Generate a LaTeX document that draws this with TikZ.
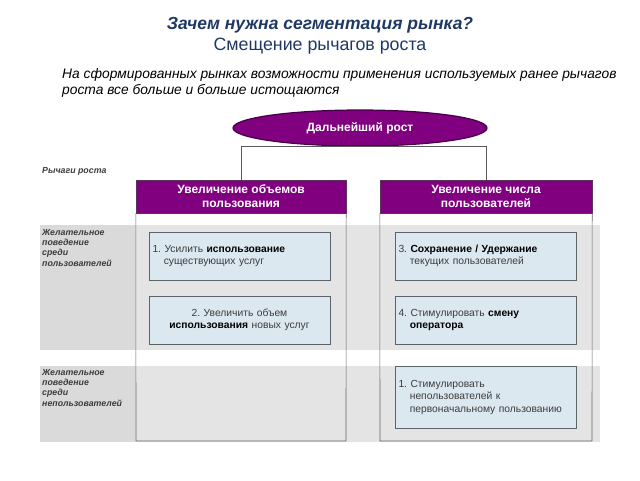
\documentclass[tikz,border=0pt]{standalone}
\usepackage{fontspec}
\setmainfont{Liberation Sans}
\usetikzlibrary{shapes.geometric}
\frenchspacing
\definecolor{ttl}{RGB}{31,56,100}
\definecolor{purp}{RGB}{128,0,128}
\definecolor{purpd}{RGB}{70,0,70}
\definecolor{band}{RGB}{228,228,228}
\definecolor{bandd}{RGB}{218,218,218}
\definecolor{boxf}{RGB}{220,232,240}
\definecolor{boxd}{RGB}{90,100,105}
\definecolor{txt}{RGB}{60,60,60}
\tikzset{
  hdr/.style={draw=purpd!60!gray, fill=purp, text=white, font=\fontsize{12}{14}\selectfont\bfseries, align=center, minimum height=33pt, inner sep=0pt},
  lever/.style={draw=boxd, line width=0.8pt, fill=boxf, minimum width=181pt, minimum height=48pt, inner sep=0pt, font=\fontsize{10.3}{12.5}\selectfont, text=txt},
  rowlab/.style={anchor=north west, align=left, font=\fontsize{8.8}{10.3}\selectfont\bfseries\itshape, text=txt, inner sep=0pt},
  frame/.style={draw=gray!80!black, line width=0.6pt},
  conn/.style={draw=gray!70!black, line width=0.6pt}
}
\begin{document}
\begin{tikzpicture}[x=1pt,y=-1pt]
\useasboundingbox (0,0) rectangle (640,480);
% bands
\fill[band] (40,225) rectangle (600,350);
\fill[band] (40,366) rectangle (600,442);
\fill[bandd] (40,225) rectangle (135,350);
\fill[bandd] (40,366) rectangle (135,442);
% titles
\node[text=ttl, font=\fontsize{17.5}{20}\selectfont\bfseries\itshape] (t1) at (320,25) {Зачем нужна сегментация рынка?};
\node[text=ttl, font=\fontsize{17.8}{20}\selectfont] (t2) at (320,46.5) {Смещение рычагов роста};
\node[anchor=west, align=left, font=\fontsize{13.8}{16}\selectfont\itshape, inner sep=0pt] (t3) at (62,82.5) {На сформированных рынках возможности применения используемых ранее рычагов\\роста все больше и больше истощаются};
% ellipse
\node[ellipse, draw=purpd, line width=1.2pt, fill=purp, text=white, font=\fontsize{12}{14}\selectfont\bfseries, minimum width=254pt, minimum height=36pt, inner sep=0pt] (grow) at (360,128) {Дальнейший рост};
% headers
\node[hdr, minimum width=210pt] (h1) at (241,196.5) {Увеличение объемов\\пользования};
\node[hdr, minimum width=212pt] (h2) at (486,196.5) {Увеличение числа\\пользователей};
\draw[conn] (h1.north) |- (grow.south) -| (h2.north);
% frames
\draw[frame] (h1.south west) -- (136,441) -- (346,441) -- (h1.south east);
\draw[frame] (h2.south west) -- (380,441) -- (592,441) -- (h2.south east);
% labels
\node[rowlab] (lr) at (42,167) {Рычаги роста};
\node[rowlab] (l1) at (42,229) {Желательное\\поведение\\среди\\пользователей};
\node[rowlab] (l2) at (42,369) {Желательное\\поведение\\среди\\непользователей};
% lever boxes
\node[lever, text width=174pt, align=left] (b1) at (239.5,256) {1. Усилить \textbf{\color{black}использование}\\\hspace*{1.1em}существующих услуг};
\node[lever, text width=174pt, align=center] (b2) at (239.5,320) {2. Увеличить объем\\\textbf{\color{black}использования} новых услуг};
\node[lever, text width=175pt, align=left] (b3) at (486,256) {3. \textbf{\color{black}Сохранение / Удержание}\\\hspace*{1.1em}текущих пользователей};
\node[lever, text width=175pt, align=left] (b4) at (486,320) {4. Стимулировать \textbf{\color{black}смену}\\\hspace*{1.1em}\textbf{\color{black}оператора}};
\node[lever, text width=175pt, align=left, minimum height=62pt] (b5) at (486,397) {1. Стимулировать\\\hspace*{1.1em}непользователей к\\\hspace*{1.1em}первоначальному пользованию};
\end{tikzpicture}
\end{document}
